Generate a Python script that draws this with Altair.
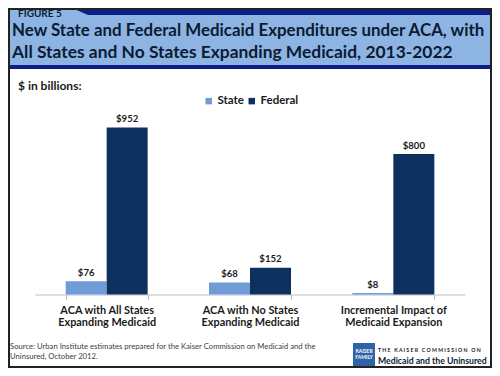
import altair as alt
import pandas as pd

categories = ["ACA with All States\nExpanding Medicaid",
              "ACA with No States\nExpanding Medicaid",
              "Incremental Impact of\nMedicaid Expansion"]
series = ["State", "Federal"]
state_values = [76, 68, 8]
federal_values = [952, 152, 800]

rows = []
for c, s, f in zip(categories, state_values, federal_values):
    rows.append({"cat": c, "series": "State", "value": s, "label": f"${s}"})
    rows.append({"cat": c, "series": "Federal", "value": f, "label": f"${f}"})
df = pd.DataFrame(rows)

FONT = "Lato"
NAVY_TXT = "#0b1b33"
STATE_C = "#6f9bd6"
FED_C = "#0d305e"
STRIPE = "#0a2088"

one = pd.DataFrame({"d": [0]})

def rect(x, x2, y, y2, color, **kw):
    return alt.Chart(one).mark_rect(color=color, **kw).encode(
        x=alt.value(x), x2=alt.value(x2), y=alt.value(y), y2=alt.value(y2))

def txt(s, x, y, size, weight="normal", color=NAVY_TXT, align="left", font=FONT):
    return alt.Chart(one).mark_text(text=s, fontSize=size, fontWeight=weight, color=color,
                                    align=align, baseline="alphabetic", font=font).encode(
        x=alt.value(x), y=alt.value(y))

xscale = alt.Scale(domain=categories, paddingInner=0.428, paddingOuter=0.214)
yscale = alt.Scale(domain=[0, 1000], nice=False)

base = alt.Chart(df)
bars = base.mark_bar().encode(
    x=alt.X("cat:N", scale=xscale, sort=categories, title=None,
            axis=alt.Axis(labelExpr="split(datum.label, '\\n')", labelAngle=0,
                          labelFont=FONT, labelFontSize=10.9, labelFontWeight="bold",
                          labelColor="#1a1a1a", labelLineHeight=12, labelPadding=5,
                          labelBaseline="top",
                          tickBand="extent", tickSize=5, tickColor="#bfbfbf",
                          domainColor="#bfbfbf", domainWidth=1, grid=False)),
    xOffset=alt.XOffset("series:N", sort=series, scale=alt.Scale(domain=series)),
    y=alt.Y("value:Q", scale=yscale, axis=None),
    color=alt.Color("series:N", sort=series,
                    scale=alt.Scale(domain=series, range=[STATE_C, FED_C]),
                    legend=alt.Legend(orient="none", legendX=168, legendY=-24, direction="horizontal",
                                      title=None, symbolType="square", symbolSize=42,
                                      symbolStrokeWidth=0, labelFont=FONT, labelFontSize=11.5,
                                      labelFontWeight="bold", labelColor="#1a1a1a",
                                      columnPadding=2, labelOffset=3)),
)
labels = base.mark_text(font=FONT, fontSize=9.6, fontWeight="bold", color="#1a1a1a",
                        baseline="alphabetic", dy=-5.5).encode(
    x=alt.X("cat:N", scale=xscale, sort=categories),
    xOffset=alt.XOffset("series:N", sort=series, scale=alt.Scale(domain=series)),
    y=alt.Y("value:Q", scale=yscale),
    text="label:N",
)

NB = "\u00a0"
tiny = (NB * 3).join(NB.join(w) for w in ["THE", "KAISER", "COMMISSION", "ON"])

deco = [
    rect(-27, 457, -111, -54, "#8db4e2"),
    rect(53, 457, -111, -104, STRIPE),
    alt.Chart(one).mark_point(shape="M-1,-0.4375 L1,-0.4375 L1,0.4375 Z", size=256,
                              filled=True, color=STRIPE, opacity=1, strokeWidth=0).encode(
        x=alt.value(45), y=alt.value(-107.5)),
    rect(-27, 457, -54, -50, STRIPE),
    txt("FIGURE 5", -17, -102, 10, "bold"),
    txt("New State and Federal Medicaid Expenditures under ACA, with", -23, -83, 16.9, "bold"),
    txt("All States and No States Expanding Medicaid, 2013-2022", -23, -61, 17.4, "bold"),
    txt("$ in billions:", -17, -29, 12, "bold", "#1a1a1a"),
    txt("Source: Urban Institute estimates prepared for the Kaiser Commission on Medicaid and the",
        -25, 230, 7.7, "normal", "#404040"),
    txt("Uninsured, October 2012.", -25, 240, 7.7, "normal", "#404040"),
    rect(318, 340, 224, 247, "#2f63a8"),
    txt("KAISER", 329, 234, 5, "bold", "white", "center"),
    txt("FAMILY", 329, 240, 5, "bold", "white", "center"),
    txt(tiny, 343, 233, 5.2, "bold", "#1a1a1a"),
    txt("Medicaid and the Uninsured", 343, 245, 8.7, "bold", "#0b1b33"),
    alt.Chart(one).mark_rect(fill=None, stroke="#222222", strokeWidth=2).encode(
        x=alt.value(-26), x2=alt.value(456), y=alt.value(-110), y2=alt.value(248)),
]

chart = alt.layer(*deco, bars, labels).properties(
    width=430, height=175.5,
    padding={"left": 27, "top": 111, "right": 27, "bottom": 73.5},
    autosize=alt.AutoSizeParams(type="none"),
    background="white",
).configure_view(stroke=None)

chart.save("out.html", embed_options={"renderer": "svg", "actions": False})
